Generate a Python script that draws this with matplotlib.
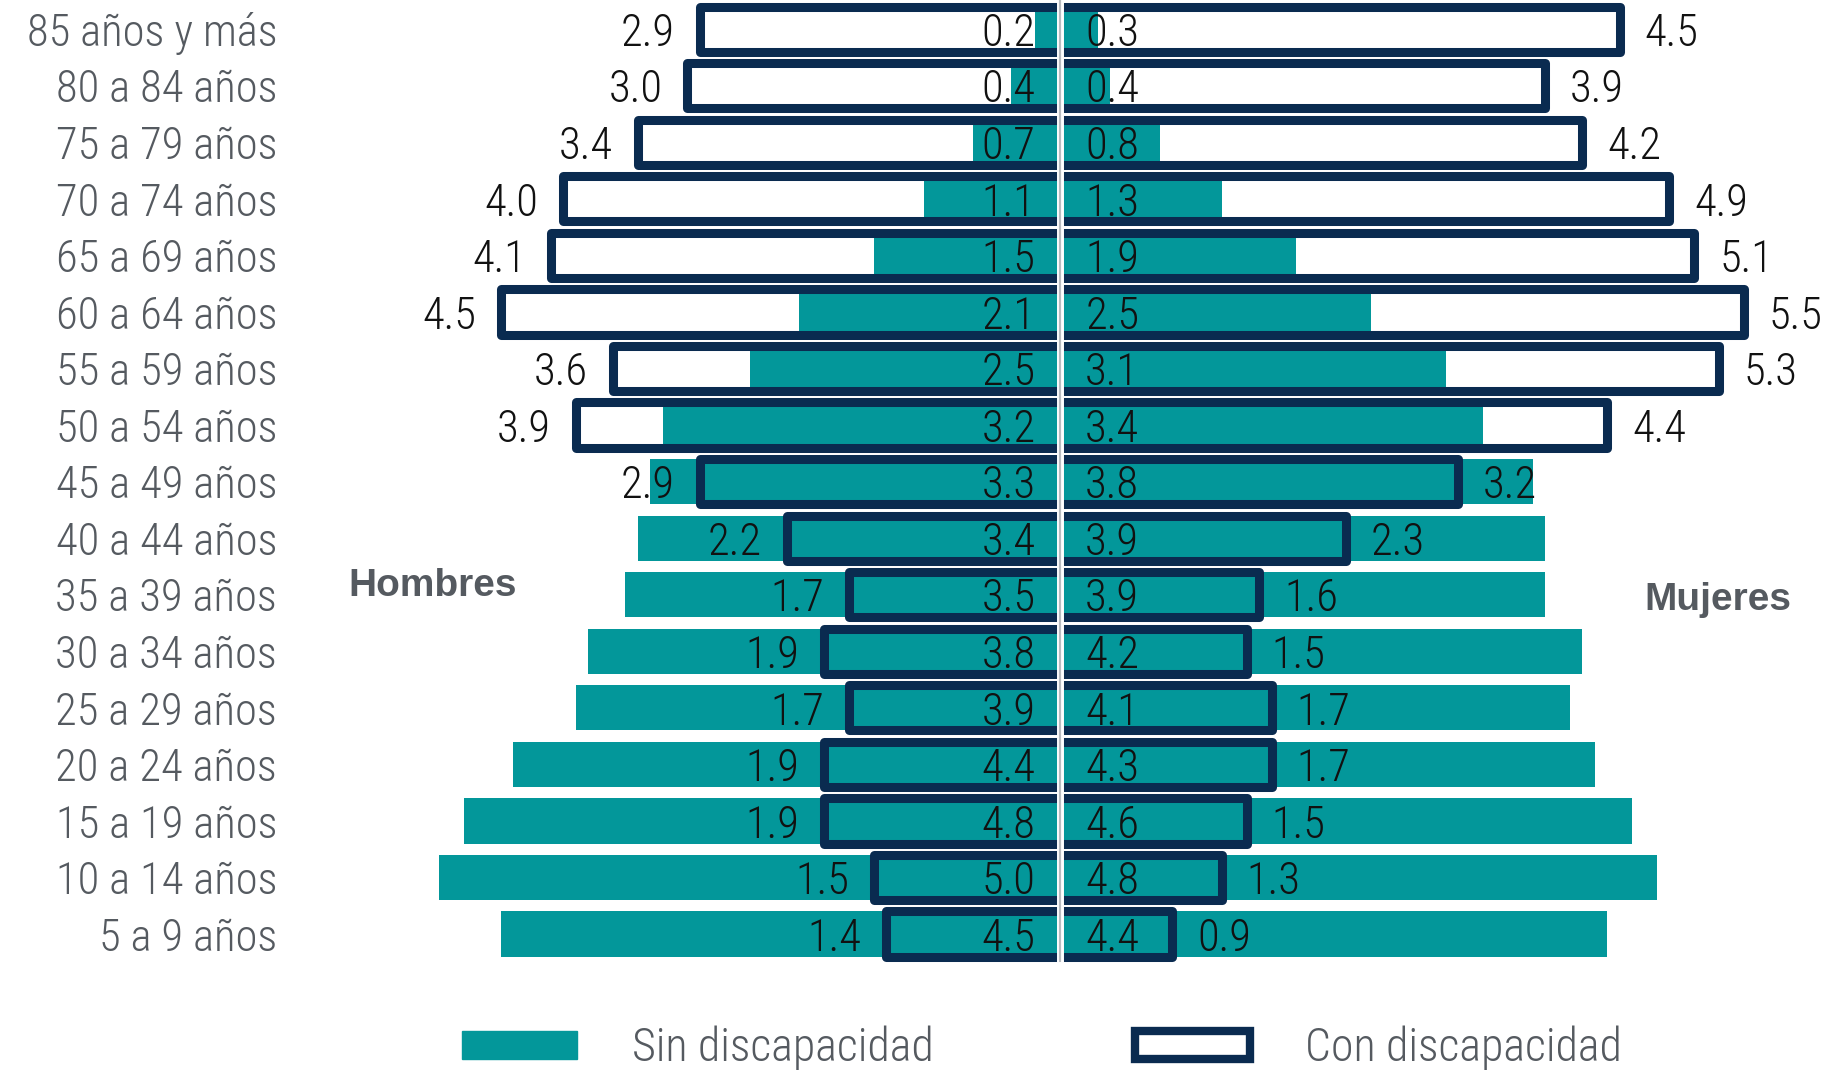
import matplotlib
matplotlib.use("Agg")
import matplotlib.pyplot as plt
from matplotlib.patches import Patch
import numpy as np

ages = ["85 años y más", "80 a 84 años", "75 a 79 años", "70 a 74 años",
        "65 a 69 años", "60 a 64 años", "55 a 59 años", "50 a 54 años",
        "45 a 49 años", "40 a 44 años", "35 a 39 años", "30 a 34 años",
        "25 a 29 años", "20 a 24 años", "15 a 19 años", "10 a 14 años",
        "5 a 9 años"]
hom_sin = [0.2, 0.4, 0.7, 1.1, 1.5, 2.1, 2.5, 3.2, 3.3, 3.4, 3.5, 3.8, 3.9, 4.4, 4.8, 5.0, 4.5]
muj_sin = [0.3, 0.4, 0.8, 1.3, 1.9, 2.5, 3.1, 3.4, 3.8, 3.9, 3.9, 4.2, 4.1, 4.3, 4.6, 4.8, 4.4]
hom_con = [2.9, 3.0, 3.4, 4.0, 4.1, 4.5, 3.6, 3.9, 2.9, 2.2, 1.7, 1.9, 1.7, 1.9, 1.9, 1.5, 1.4]
muj_con = [4.5, 3.9, 4.2, 4.9, 5.1, 5.5, 5.3, 4.4, 3.2, 2.3, 1.6, 1.5, 1.7, 1.7, 1.5, 1.3, 0.9]

TEAL = "#03979a"
NAVY = "#0a2b50"
GRAY = "#555a60"
NARROW = ["Roboto Condensed", "Liberation Sans Narrow", "DejaVu Sans"]

n = len(ages)
y = np.arange(n)[::-1]
h = 0.8
pad = 0.2

fig = plt.figure(figsize=(18.31, 10.72), dpi=100)
ax = fig.add_axes([0, 0, 1, 1])
ax.set_xlim(-8.53, 6.20)
ax.set_ylim(-2.44, 16.516)
ax.axis("off")

# white interior of the "con discapacidad" bars
ax.barh(y, [-v for v in hom_con], height=h, color="white", zorder=1)
ax.barh(y, muj_con, height=h, color="white", zorder=1)
# teal bars
ax.barh(y, [-v for v in hom_sin], height=h, color=TEAL, zorder=2)
ax.barh(y, muj_sin, height=h, color=TEAL, zorder=2)
# open outlines (no side at the centre)
for yi, hv, mv in zip(y, hom_con, muj_con):
    for s, v in ((-1, hv), (1, mv)):
        ax.plot([0, s * v, s * v, 0], [yi - h / 2, yi - h / 2, yi + h / 2, yi + h / 2],
                color=NAVY, lw=6.5, solid_joinstyle="round", solid_capstyle="butt", zorder=3)

# centre divider
ax.plot([0, 0], [-0.5, 17], color="white", lw=5, zorder=4, solid_capstyle="butt")
ax.plot([0, 0], [-0.5, 17], color="#b8bcc0", lw=1.6, zorder=5, solid_capstyle="butt")

fs = 32
kw = dict(va="center_baseline", fontsize=fs, family=NARROW, fontweight="light")
for yi, a, hs, ms, hc, mc in zip(y, ages, hom_sin, muj_sin, hom_con, muj_con):
    ax.text(-pad, yi, f"{hs:.1f}", ha="right", color="#111111", zorder=6, **kw)
    ax.text(pad, yi, f"{ms:.1f}", ha="left", color="#111111", zorder=6, **kw)
    ax.text(-hc - pad, yi, f"{hc:.1f}", ha="right", color="#111111", zorder=6, **kw)
    ax.text(mc + pad, yi, f"{mc:.1f}", ha="left", color="#111111", zorder=6, **kw)
    ax.text(-6.30, yi, a, ha="right", color=GRAY, **kw)

ax.text(-5.05, 6.15, "Hombres", ha="center", va="center", fontsize=28, fontweight="bold",
        color=GRAY, family=["Liberation Sans", "DejaVu Sans"])
ax.text(5.29, 5.9, "Mujeres", ha="center", va="center", fontsize=28, fontweight="bold",
        color=GRAY, family=["Liberation Sans", "DejaVu Sans"])

handles = [Patch(facecolor=TEAL, edgecolor=TEAL, label="Sin discapacidad"),
           Patch(facecolor="white", edgecolor=NAVY, lw=6, label="Con discapacidad")]
leg = ax.legend(handles=handles, loc="lower center", bbox_to_anchor=(0.569, -0.037), ncol=2,
                frameon=False, handlelength=2.5, handleheight=0.58, handletextpad=1.2,
                columnspacing=4.4, prop={"family": NARROW, "size": 33, "weight": "light"})
for t in leg.get_texts():
    t.set_color(GRAY)

fig.savefig("out.png", dpi=100)
